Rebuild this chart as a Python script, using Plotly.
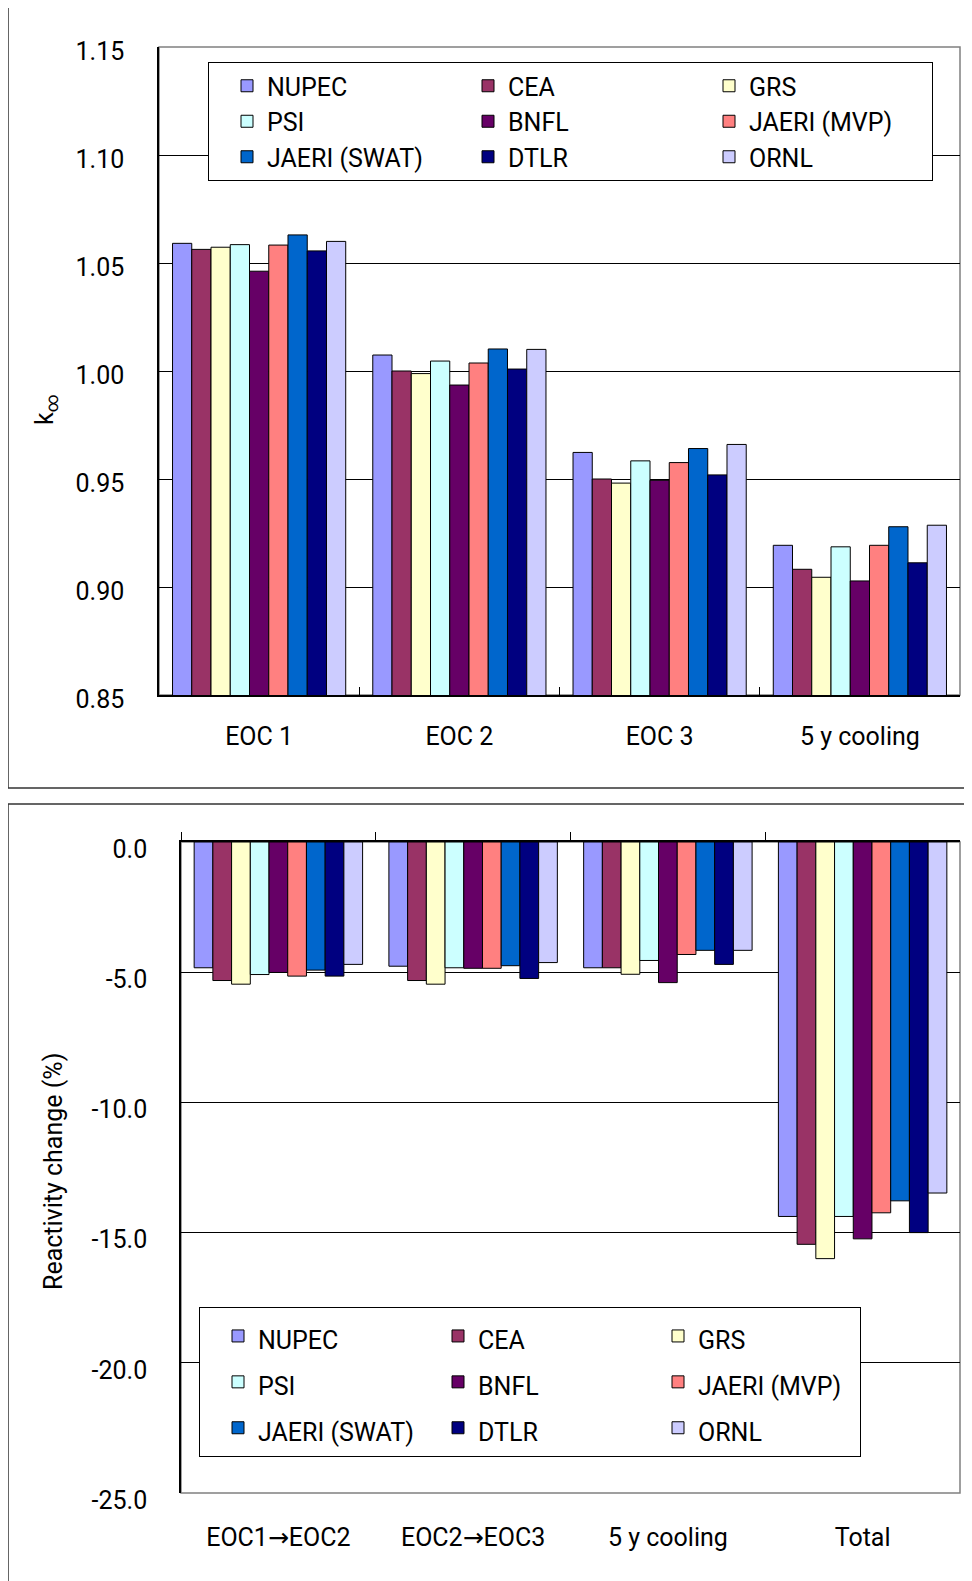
import plotly.graph_objects as go

# ---------------- data ----------------
labs = ["NUPEC", "CEA", "GRS", "PSI", "BNFL", "JAERI (MVP)", "JAERI (SWAT)", "DTLR", "ORNL"]
colors = ["#9999FF", "#993366", "#FFFFCC", "#CCFFFF", "#660066", "#FF8080", "#0066CC", "#000080", "#CCCCFF"]

top_cats = ["EOC 1", "EOC 2", "EOC 3", "5 y cooling"]
nupec_k = [1.0591, 1.0074, 0.9623, 0.9193]
cea_k = [1.0563, 1.0000, 0.9500, 0.9082]
grs_k = [1.0573, 0.9988, 0.9481, 0.9045]
psi_k = [1.0585, 1.0046, 0.9584, 0.9186]
bnfl_k = [1.0462, 0.9935, 0.9494, 0.9028]
mvp_k = [1.0583, 1.0037, 0.9576, 0.9193]
swat_k = [1.0630, 1.0102, 0.9641, 0.9279]
dtlr_k = [1.0556, 1.0009, 0.9519, 0.9112]
ornl_k = [1.0600, 1.0100, 0.9660, 0.9286]
top_vals = [nupec_k, cea_k, grs_k, psi_k, bnfl_k, mvp_k, swat_k, dtlr_k, ornl_k]

bot_cats = ["EOC1\u2192EOC2", "EOC2\u2192EOC3", "5 y cooling", "Total"]
nupec_r = [-4.83, -4.77, -4.83, -14.38]
cea_r = [-5.32, -5.32, -4.83, -15.45]
grs_r = [-5.46, -5.46, -5.08, -16.00]
psi_r = [-5.09, -4.83, -4.55, -14.38]
bnfl_r = [-5.01, -4.85, -5.40, -15.24]
mvp_r = [-5.15, -4.85, -4.32, -14.24]
swat_r = [-4.92, -4.75, -4.16, -13.78]
dtlr_r = [-5.15, -5.24, -4.70, -15.00]
ornl_r = [-4.70, -4.63, -4.16, -13.48]
bot_vals = [nupec_r, cea_r, grs_r, psi_r, bnfl_r, mvp_r, swat_r, dtlr_r, ornl_r]

k_ticks = [0.85, 0.90, 0.95, 1.00, 1.05, 1.10, 1.15]
r_ticks = [0.0, -5.0, -10.0, -15.0, -20.0, -25.0]
k_ticktext = ["%.2f" % v for v in k_ticks]
r_ticktext = [("%.1f" % v).replace("-0.0", "0.0") for v in r_ticks]
# render the arrow with a font that has a full-size glyph for it
bot_ticktext = [c.replace("\u2192", "<span style=\"font-family:'DejaVu Sans'\">\u2192</span>")
                for c in bot_cats]

# ---------------- geometry helpers ----------------
W, H = 972, 1581
ML, MR = 150, 10
PW = W - ML - MR
OFF = 8  # page body margin


def px(x):
    return (x - OFF - ML) / PW


def py(y):
    return 1 - (y - OFF) / H


FONT = "Roboto, Liberation Sans, Arial, sans-serif"
FS = 25

fig = go.Figure()

for name, col, v in zip(labs, colors, top_vals):
    fig.add_trace(go.Bar(x=top_cats, y=v, name=name, xaxis="x", yaxis="y",
                         marker=dict(color=col, line=dict(color="black", width=1)),
                         legend="legend"))

for name, col, v in zip(labs, colors, bot_vals):
    fig.add_trace(go.Bar(x=bot_cats, y=v, name='<span style="font-size:25px">%s</span>' % name,
                         xaxis="x2", yaxis="y2",
                         marker=dict(color=col, line=dict(color="black", width=1)),
                         legend="legend2"))

# invisible helper so the top (tick-mark) category axis of the lower chart is drawn
fig.add_trace(go.Scatter(x=bot_cats, y=[None] * len(bot_cats), xaxis="x4", yaxis="y2",
                         mode="markers", marker=dict(opacity=0), showlegend=False,
                         hoverinfo="skip"))

fig.update_layout(
    width=W, height=H,
    margin=dict(l=ML, r=MR, t=0, b=0, autoexpand=False),
    paper_bgcolor="white", plot_bgcolor="white",
    font=dict(family=FONT, size=FS, color="black"),
    barmode="group", bargap=0.135, bargroupgap=0,
    xaxis=dict(domain=[px(159), px(960)], anchor="y", type="category", automargin=False,
               showline=True, linecolor="black", linewidth=1.5,
               ticks="inside", tickson="boundaries", ticklen=8, tickcolor="black",
               showgrid=False, ticklabelstandoff=18, tickfont=dict(size=25)),
    yaxis=dict(domain=[py(695), py(47)], anchor="x", range=[0.85, 1.15], automargin=False,
               tickmode="array", tickvals=k_ticks, ticktext=k_ticktext,
               showline=True, linecolor="black", linewidth=1.5,
               showgrid=True, gridcolor="black", gridwidth=1,
               ticks="", ticklabelstandoff=28, ticklabelshift=4, zeroline=False),
    xaxis2=dict(domain=[px(181), px(960)], anchor="y2", type="category", side="bottom",
                automargin=False, categoryorder="array", categoryarray=bot_cats,
                tickmode="array", tickvals=bot_cats, ticktext=bot_ticktext,
                showline=False, ticks="", showgrid=False,
                ticklabelstandoff=27, tickfont=dict(size=25)),
    xaxis4=dict(domain=[px(181), px(960)], anchor="y2", overlaying="x2", side="top",
                automargin=False, type="category", categoryorder="array", categoryarray=bot_cats,
                range=[-0.5, len(bot_cats) - 0.5],
                showline=True, linecolor="black", linewidth=1.5,
                ticks="outside", tickson="boundaries", ticklen=8, tickcolor="black",
                showticklabels=False, showgrid=False, zeroline=False),
    yaxis2=dict(domain=[py(1493), py(842)], anchor="x2", range=[-25, 0], automargin=False,
                tickmode="array", tickvals=r_ticks, ticktext=r_ticktext,
                showline=True, linecolor="black", linewidth=1.5,
                showgrid=True, gridcolor="black", gridwidth=1,
                ticks="", ticklabelstandoff=27, ticklabelshift=7, zeroline=False),
    legend=dict(orientation="h", x=px(208), y=py(62), xanchor="left", yanchor="top",
                bgcolor="white", bordercolor="black", borderwidth=1,
                entrywidth=178, entrywidthmode="pixels", indentation=18,
                font=dict(family=FONT, size=25), traceorder="normal"),
    legend2=dict(orientation="h", x=px(199), y=py(1307), xanchor="left", yanchor="top",
                 bgcolor="white", bordercolor="black", borderwidth=1,
                 entrywidth=157, entrywidthmode="pixels", indentation=18,
                 font=dict(family=FONT, size=33), traceorder="normal"),
    showlegend=True,
)

shapes = [
    # outer chart boxes
    dict(type="rect", xref="paper", yref="paper", x0=px(8), x1=px(1000), y0=py(788), y1=py(5),
         line=dict(color="#333333", width=1.5), layer="below"),
    dict(type="rect", xref="paper", yref="paper", x0=px(8), x1=px(1000), y0=py(1620), y1=py(804),
         line=dict(color="#333333", width=1.5), layer="below"),
    # plot area borders
    dict(type="rect", xref="paper", yref="paper", x0=px(159), x1=px(960), y0=py(695), y1=py(47),
         line=dict(color="#808080", width=1.5), layer="below"),
    dict(type="rect", xref="paper", yref="paper", x0=px(181), x1=px(960), y0=py(1493), y1=py(842),
         line=dict(color="#808080", width=1.5), layer="below"),
]
fig.update_layout(shapes=shapes)

fig.add_annotation(text="k<sub>\u221e</sub>", xref="paper", yref="paper", x=px(46), y=py(410),
                   xanchor="center", yanchor="middle",
                   textangle=-90, showarrow=False, font=dict(family=FONT, size=25))
fig.add_annotation(text="Reactivity change (%)", xref="paper", yref="paper", x=px(53), y=py(1172),
                   xanchor="center", yanchor="middle",
                   textangle=-90, showarrow=False, font=dict(family=FONT, size=25))

fig.write_html("out.html")
